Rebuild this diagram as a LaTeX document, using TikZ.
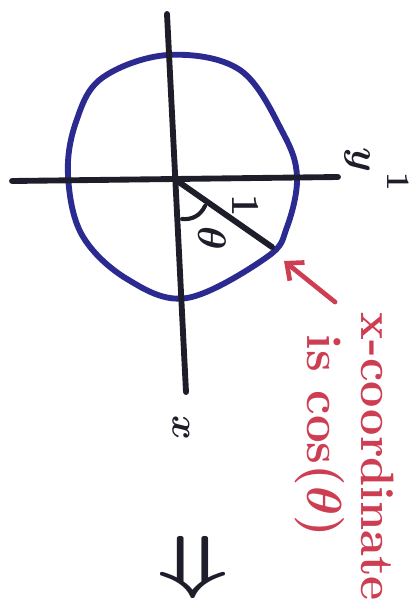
\RequirePackage{fix-cm}
\documentclass[tikz,border=0pt]{standalone}
\usepackage{amsmath,amssymb}
\usepackage{tikz}
\usetikzlibrary{arrows.meta,positioning,calc}
\usepackage{xcolor}
\definecolor{penblue}{RGB}{42,42,145}
\definecolor{penred}{RGB}{205,62,82}
\definecolor{penblack}{RGB}{30,30,42}

\begin{document}
\begin{tikzpicture}[x=0.03cm, y=-0.03cm,
    axis/.style={penblack, line width=5pt, line cap=round},
    circ/.style={penblue, line width=5pt},
    pointer/.style={-{Straight Barb[length=4mm, width=7mm]}, penred, line width=4pt, line cap=round},
    lbl/.style={penblack, rotate=-90, inner sep=0pt},
    note/.style={penred, rotate=-90, inner sep=0pt, font=\fontsize{40}{44}\selectfont\bfseries\boldmath}
]
\useasboundingbox (0,0) rectangle (417,604);

\coordinate (o) at (176,180);
\coordinate (top) at (167,14);
\coordinate (bot) at (186,392);
\coordinate (left) at (12,181);
\coordinate (right) at (338,177);
\coordinate (pt) at (272,247);
\coordinate (a1) at (182,219);
\coordinate (a2) at (205,206);

% unit circle
\draw[circ] plot[smooth cycle, tension=0.6] coordinates {(68,175) (76,122) (102,78) (168,55) (240,70)
    (283,133) (297,177) (287,227) (267,257) (187,298) (127,279) (82,235)};

% axes, radius, angle
\draw[axis] (top) -- (bot);
\draw[axis] (left) -- (right);
\draw[axis] (o) -- (pt);
\draw[axis, line width=3.5pt] (a1) to[bend right=35] (a2);

\node[lbl, font=\fontsize{34}{34}\selectfont\boldmath] (theta) at (212,238) {$\theta$};
\node[lbl, font=\fontsize{34}{34}\selectfont\bfseries] (one) at (246,206) {1};
\node[lbl, font=\fontsize{34}{34}\selectfont\boldmath] (ylab) at (357,160) {$y$};
\node[lbl, font=\fontsize{28}{28}\selectfont\bfseries] (one2) at (398,182) {1};
\node[lbl, font=\fontsize{32}{32}\selectfont\boldmath] (xlab) at (181,428) {$x$};
\node[lbl, font=\fontsize{52}{52}\selectfont\boldmath] (impl) at (187,568) {\scalebox{1}[1.8]{$\Rightarrow$}};

% red remark
\coordinate (tail) at (335,302);
\coordinate (tip) at (284,261);
\draw[pointer] (tail) -- (tip);
\node[note] (coord) at (378,457) {x-coordinate};
\node[note, font=\fontsize{42}{46}\selectfont\bfseries\boldmath] (cos) at (320,436) {is cos($\theta$)};
\end{tikzpicture}
\end{document}
